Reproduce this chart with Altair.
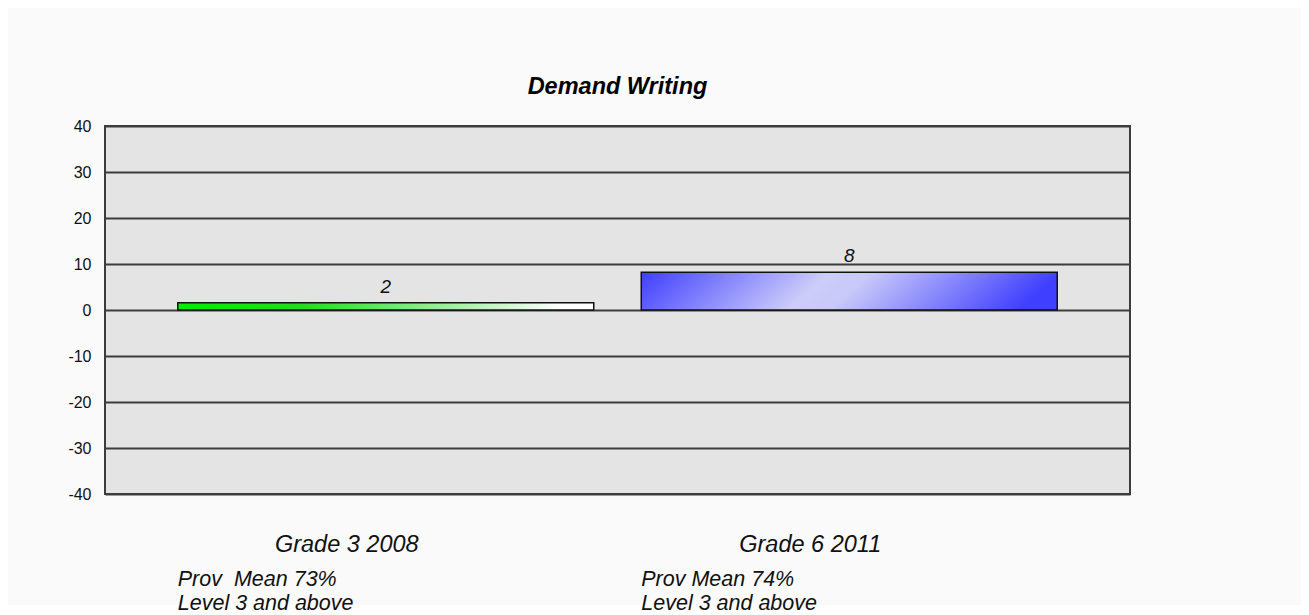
import altair as alt
import pandas as pd

# ---- data ----
cats = ["Grade 3 2008", "Grade 6 2011"]
values = [1.6, 8.2]
value_labels = ["2", "8"]
prov_lines = ["Prov\u00a0 Mean 73%", "Prov Mean 74%"]
level_lines = ["Level 3 and above", "Level 3 and above"]
y_ticks = [-40, -30, -20, -10, 0, 10, 20, 30, 40]

df = pd.DataFrame({
    "cat": cats,
    "value": values,
    "vlabel": value_labels,
    "prov": prov_lines,
    "level": level_lines,
})

FONT = "Liberation Sans"

xscale = alt.Scale(domain=cats, paddingInner=0.1025, paddingOuter=0.157)
yscale = alt.Scale(domain=[-40, 40], nice=False)

base = alt.Chart(df)

x_enc = alt.X("cat:N", scale=xscale, axis=None, sort=cats)
y_enc = alt.Y("value:Q", scale=yscale,
              axis=alt.Axis(values=y_ticks, title=None, grid=True, ticks=False,
                            domain=False, labelPadding=14, labelFontSize=16,
                            labelFont=FONT, labelColor="#111111",
                            labelExpr="'' + datum.value",
                            gridColor="#3c3c3c", gridWidth=2))

green = alt.Gradient(
    gradient="linear",
    stops=[alt.GradientStop(color="#00ee00", offset=0),
           alt.GradientStop(color="#22dd22", offset=0.3),
           alt.GradientStop(color="#ffffff", offset=0.92),
           alt.GradientStop(color="#ffffff", offset=1)],
    x1=0, x2=1, y1=0, y2=0)

blue = alt.Gradient(
    gradient="linear",
    stops=[alt.GradientStop(color="#3f3fff", offset=0),
           alt.GradientStop(color="#cdcdfa", offset=0.45),
           alt.GradientStop(color="#c8c8fa", offset=0.55),
           alt.GradientStop(color="#3f3fff", offset=1)],
    x1=0, x2=1, y1=0, y2=0.1)

bar_green = base.transform_filter(alt.datum.cat == cats[0]).mark_bar(
    fill=green, stroke="#111111", strokeWidth=1.5
).encode(x=x_enc, y=y_enc, y2=alt.datum(0))

bar_blue = base.transform_filter(alt.datum.cat == cats[1]).mark_bar(
    fill=blue, stroke="#111111", strokeWidth=1.5
).encode(x=x_enc, y=y_enc, y2=alt.datum(0))

value_text = base.mark_text(
    font=FONT, fontSize=19, fontStyle="italic", color="#111111",
    baseline="alphabetic", dy=-10
).encode(x=x_enc, y=alt.Y("value:Q", scale=yscale), text="vlabel:N")

# white strip at the very bottom of the page (below the grey panel)
strip = alt.Chart(pd.DataFrame({"a": [0]})).mark_rect(color="#ffffff").encode(
    x=alt.value(-110), x2=alt.value(1215), y=alt.value(479), y2=alt.value(500)
)

grade_text = base.mark_text(
    font=FONT, fontSize=23.5, fontStyle="italic", color="#111111",
    baseline="alphabetic", align="center", dx=-39
).encode(x=x_enc, y=alt.value(426), text="cat:N")

prov_text = base.mark_text(
    font=FONT, fontSize=21.5, fontStyle="italic", color="#111111",
    baseline="alphabetic", align="left"
).encode(x=alt.X("cat:N", scale=xscale, axis=None, sort=cats, bandPosition=0),
         y=alt.value(460), text="prov:N")

level_text = base.mark_text(
    font=FONT, fontSize=21.5, fontStyle="italic", color="#111111",
    baseline="alphabetic", align="left"
).encode(x=alt.X("cat:N", scale=xscale, axis=None, sort=cats, bandPosition=0),
         y=alt.value(484), text="level:N")

chart = alt.layer(
    bar_green, bar_blue, value_text, strip, grade_text, prov_text, level_text
).properties(
    width=1025,
    height=368,
    title=alt.TitleParams(text="Demand Writing", font=FONT, fontSize=23.5,
                          fontStyle="italic", fontWeight="bold", color="#000000",
                          anchor="middle", frame="group", offset=1,
                          baseline="alphabetic"),
    autosize=alt.AutoSizeParams(type="none"),
    padding={"left": 97, "top": 118, "right": 171, "bottom": 121},
    background="#fafafa",
).configure_view(
    fill="#e4e4e4", stroke="#3c3c3c", strokeWidth=2
)

chart.save("out.html", embed_options={"renderer": "svg", "actions": False})
